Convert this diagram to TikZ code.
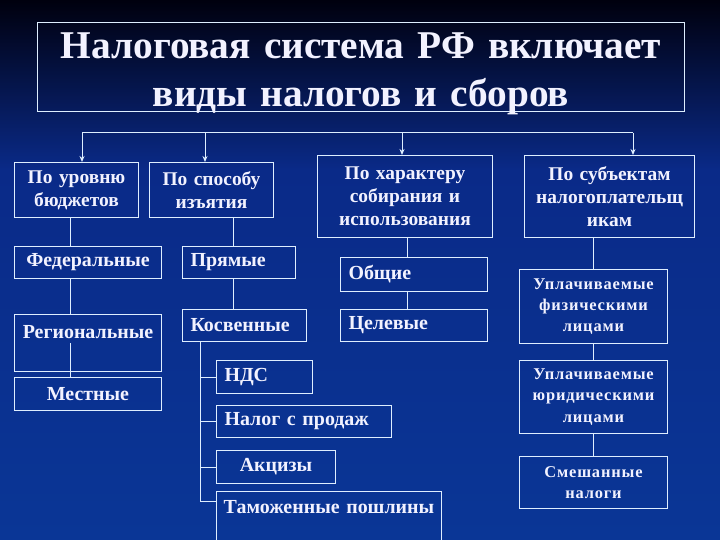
\documentclass[tikz,border=0pt]{standalone}
\usepackage{fontspec}
\setmainfont{Liberation Serif}
\usepackage{tikz}
\usetikzlibrary{arrows.meta, positioning}

\definecolor{bgtop}{RGB}{0,0,14}
\definecolor{bgmid}{RGB}{10,42,136}
\definecolor{bgbot}{RGB}{10,54,150}
\definecolor{linec}{RGB}{222,238,255}
\definecolor{textc}{RGB}{242,242,255}

\begin{document}
\begin{tikzpicture}[
x=1bp, y=-1bp,
every node/.style={draw=linec, line width=1bp, rectangle, anchor=north west, inner ysep=0pt, text=textc, font=\bfseries},
catbox/.style={align=center, inner xsep=2bp, font=\bfseries\fontsize{19.5}{23}\selectfont},
leftbox/.style={align=left, inner xsep=8bp, font=\bfseries\fontsize{20}{22}\selectfont},
midbox/.style={align=center, inner xsep=2bp, font=\bfseries\fontsize{20}{22}\selectfont},
subjbox/.style={align=center, inner xsep=2bp, font=\bfseries\addfontfeature{LetterSpace=5}\fontsize{16.5}{21.5}\selectfont},
arrow/.style={-{Stealth[length=6bp, width=5bp]}, draw=linec, line width=1bp},
link/.style={draw=linec, line width=1bp}
]

\shade[top color=bgtop, bottom color=bgmid] (0,0) rectangle (720,170);
\shade[top color=bgmid, bottom color=bgbot] (0,170) rectangle (720,540);
\useasboundingbox (0,0) rectangle (720,540);
\clip (0,0) rectangle (720,540);

\node[align=center, text width=643bp, inner xsep=2bp, text height=36bp, text depth=53bp, font=\bfseries\fontsize{39.5}{48}\selectfont] (title) at (37,22)
{Налоговая система РФ включает\\виды налогов и сборов};

\node[catbox, text width=120bp, minimum height=55bp] (budget) at (14,162) {По уровню\\бюджетов};
\node[catbox, text width=120bp, minimum height=55bp] (method) at (149,162) {По способу\\изъятия};
\node[catbox, text width=171bp, minimum height=82bp] (usage) at (317,155) {По характеру\\собирания и\\использования};
\node[catbox, text width=166bp, minimum height=82bp] (payer) at (524,155) {По субъектам\\налогоплательщ\\икам};

\node[midbox, text width=143bp, minimum height=32bp] (federal) at (14,246) {Федеральные};
\node[midbox, text width=143bp, text height=24bp, text depth=33bp] (regional) at (14,314) {Региональные};
\node[midbox, text width=143bp, minimum height=33bp] (local) at (14,377) {Местные};

\node[leftbox, text width=97bp, minimum height=32bp] (direct) at (182,246) {Прямые};
\node[leftbox, text width=108bp, minimum height=32bp] (indirect) at (182,309) {Косвенные};
\node[leftbox, text width=80bp, minimum height=33bp] (vat) at (216,360) {НДС};
\node[leftbox, text width=159bp, minimum height=32bp] (sales) at (216,405) {Налог с продаж};
\node[midbox, text width=115bp, minimum height=33bp] (excise) at (216,450) {Акцизы};
\node[midbox, text width=221bp, text height=22bp, text depth=60bp] (customs) at (216,491) {Таможенные пошлины};

\node[leftbox, text width=131bp, minimum height=34bp] (general) at (340,257) {Общие};
\node[leftbox, text width=131bp, minimum height=32bp] (target) at (340,309) {Целевые};

\node[subjbox, text width=144bp, minimum height=74bp] (persons) at (519,269) {Уплачиваемые\\физическими\\лицами};
\node[subjbox, text width=144bp, minimum height=73bp] (firms) at (519,360) {Уплачиваемые\\юридическими\\лицами};
\node[subjbox, text width=144bp, minimum height=52bp] (mixed) at (519,456) {Смешанные\\налоги};

\coordinate (busL) at (82,133);
\coordinate (busB) at (205,133);
\coordinate (busC) at (402,133);
\coordinate (busR) at (633,133);
\coordinate (colA) at (70,0);
\coordinate (colB) at (233,0);
\coordinate (colC) at (407,0);
\coordinate (colD) at (200,0);
\coordinate (customsJ) at (200,501);

\draw[link] (busL) -- (busR);
\draw[arrow] (busL) -- (busL |- budget.north);
\draw[arrow] (busB) -- (busB |- method.north);
\draw[arrow] (busC) -- (busC |- usage.north);
\draw[arrow] (busR) -- (busR |- payer.north);

\draw[link] (budget.south -| colA) -- (federal.north -| colA);
\draw[link] (federal.south -| colA) -- (regional.north -| colA);
\draw[link] (regional.center -| colA) -- (local.north -| colA);

\draw[link] (method.south -| colB) -- (direct.north -| colB);
\draw[link] (direct.south -| colB) -- (indirect.north -| colB);
\draw[link] (indirect.south -| colD) -- (customsJ) -- (customsJ -| customs.west);
\foreach \tax in {vat, sales, excise}
  \draw[link] (colD |- \tax.west) -- (\tax.west);

\draw[link] (usage.south -| colC) -- (general.north -| colC);
\draw[link] (general.south -| colC) -- (target.north -| colC);

\draw[link] (payer.south -| persons.north) -- (persons.north);
\draw[link] (persons.south) -- (firms.north);
\draw[link] (firms.south) -- (mixed.north);

\end{tikzpicture}
\end{document}
